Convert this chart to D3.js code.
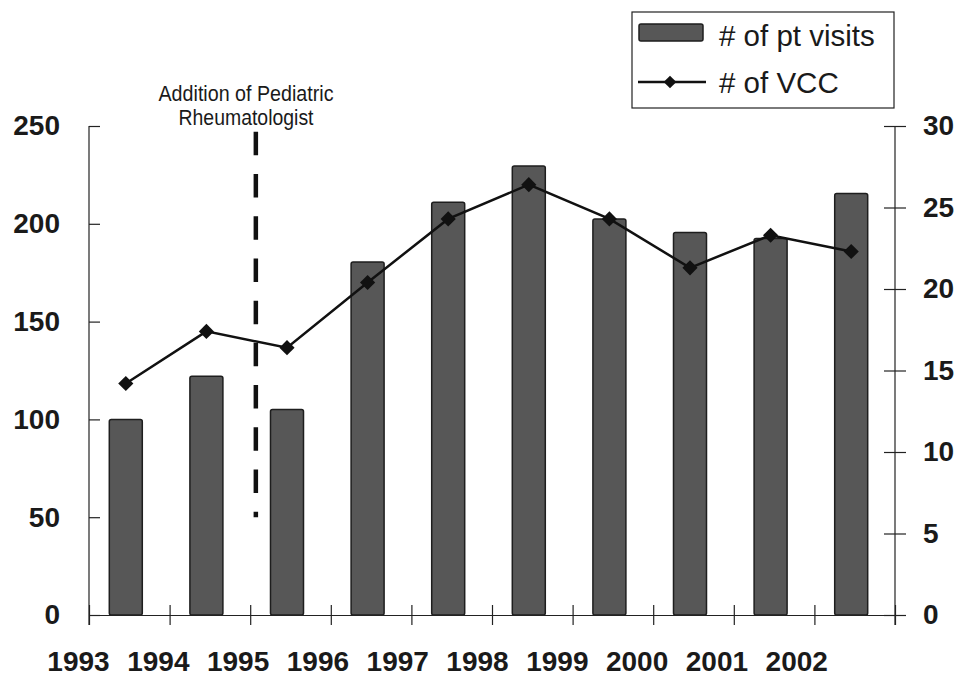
<!DOCTYPE html>
<html>
<head>
<meta charset="utf-8">
<script src="https://cdn.jsdelivr.net/npm/d3@7"></script>
<style>
  body { margin: 0; background: #fff; }
  svg { display: block; }
  .tickText { font-family: "Liberation Sans", Arial, sans-serif; font-weight: bold; font-size: 28px; fill: #1a1a1a; }
  .note { font-family: "Liberation Sans Narrow", "Liberation Sans", Arial, sans-serif; font-size: 22px; fill: #1a1a1a; }
  .legendText { font-family: "Liberation Sans", Arial, sans-serif; font-size: 29.5px; fill: #1a1a1a; }
</style>
</head>
<body>
<script>
// Visits and VCC per year

let years = [1993, 1994, 1995, 1996, 1997, 1998, 1999, 2000, 2001, 2002];
let ptVisits = [100, 122, 105, 180.5, 211, 229.5, 202.5, 195.5, 192.5, 215.5];
let vccCounts = [14.2, 17.4, 16.4, 20.4, 24.3, 26.4, 24.3, 21.3, 23.3, 22.3];
let leftTicks = [0, 50, 100, 150, 200, 250];
let rightTicks = [0, 5, 10, 15, 20, 25, 30];
let seriesNames = ["# of pt visits", "# of VCC"];
let noteLines = ["Addition of Pediatric", "Rheumatologist"];
let noteYear = 1995.07;      // where the dashed marker sits
let noteRange = [50, 247];   // its extent on the left axis

// SVG params
let svgWidth = 955;
let svgHeight = 678;
let plotLeft = 89, plotRight = 895, plotTop = 126, plotBottom = 615;

let svg = d3.select("body")
    .append("svg")
    .attr("width", svgWidth)
    .attr("height", svgHeight);

// Scales
let xEdge = d3.scaleLinear().domain([1993, 2003]).range([plotLeft, plotRight]);
let xBand = d3.scaleBand().domain(years).range([plotLeft, plotRight]);
let barW = 33;
let barX = d => xBand(d) + xBand.bandwidth() / 2 - 3.5;

let yLeft = d3.scaleLinear().domain([0, 250]).range([plotBottom, plotTop]);
let yRight = d3.scaleLinear().domain([0, 30]).range([plotBottom, plotTop]);

let data = years.map((y, i) => ({ year: y, visits: ptVisits[i], vcc: vccCounts[i] }));

// Bars
svg.append("g").selectAll("rect")
    .data(data)
    .enter()
    .append("rect")
    .attr("x", d => barX(d.year) - barW / 2)
    .attr("y", d => yLeft(d.visits))
    .attr("width", barW)
    .attr("height", d => yLeft(0) - yLeft(d.visits))
    .attr("rx", 2)
    .attr("fill", "#575757")
    .attr("stroke", "#1e1e1e")
    .attr("stroke-width", 1.5);

// X axis: boundary ticks
let xTicks = svg.append("g")
    .attr("transform", `translate(0, ${plotBottom})`)
    .call(d3.axisBottom(xEdge).tickValues(d3.range(1993, 2004)).tickSize(10).tickSizeOuter(0).tickFormat(""));
xTicks.selectAll(".tick line").attr("y1", -10).attr("stroke", "#222").attr("stroke-width", 1.2);
xTicks.select(".domain").attr("stroke", "#222").attr("stroke-width", 1.2);

// X axis: year labels
let xLabels = svg.append("g")
    .attr("transform", `translate(0, ${plotBottom})`)
    .call(d3.axisBottom(xEdge).tickValues(years).tickSize(0).tickFormat(d3.format("d")));
xLabels.select(".domain").remove();
xLabels.selectAll("text")
    .attr("class", "tickText")
    .attr("y", 56)
    .attr("dy", 0)
    .attr("dx", (d, i) => -11 - 0.8 * i);

// Left axis
let yAxisL = svg.append("g")
    .attr("transform", `translate(${plotLeft}, 0)`)
    .call(d3.axisLeft(yLeft).tickValues(leftTicks).tickSize(11).tickPadding(18));
yAxisL.select(".domain").remove();
yAxisL.selectAll(".tick line").attr("x2", 11).attr("stroke", "#222").attr("stroke-width", 1.2);
yAxisL.selectAll("text").attr("class", "tickText");
yAxisL.append("line")
    .attr("y1", yLeft(250)).attr("y2", yLeft(0) + 10)
    .attr("stroke", "#222").attr("stroke-width", 1.2);

// Right axis
let yAxisR = svg.append("g")
    .attr("transform", `translate(${plotRight}, 0)`)
    .call(d3.axisRight(yRight).tickValues(rightTicks).tickSize(11).tickPadding(17));
yAxisR.select(".domain").remove();
yAxisR.selectAll(".tick line").attr("x2", 11).attr("x1", -11).attr("stroke", "#222").attr("stroke-width", 1.2);
yAxisR.selectAll("text").attr("class", "tickText");
yAxisR.append("line")
    .attr("y1", yRight(30)).attr("y2", yRight(0) + 10)
    .attr("stroke", "#222").attr("stroke-width", 1.2);

// VCC line + diamonds
let line = d3.line()
    .x(d => barX(d.year))
    .y(d => yRight(d.vcc));

svg.append("path")
    .datum(data)
    .attr("d", line)
    .attr("fill", "none")
    .attr("stroke", "#111")
    .attr("stroke-width", 2.5);

let diamond = d3.symbol().type(d3.symbolSquare).size(115);
svg.append("g").selectAll("path")
    .data(data)
    .enter()
    .append("path")
    .attr("d", diamond)
    .attr("transform", d => `translate(${barX(d.year)}, ${yRight(d.vcc)}) rotate(45)`)
    .attr("fill", "#111");

// Dashed marker + note
svg.append("line")
    .attr("x1", xEdge(noteYear)).attr("x2", xEdge(noteYear))
    .attr("y1", yLeft(noteRange[1])).attr("y2", yLeft(noteRange[0]))
    .attr("stroke", "#111")
    .attr("stroke-width", 4.5)
    .attr("stroke-dasharray", "23.5 18.7");

let noteWidths = [175, 135];
let noteBase = [100.5, 124.5];
svg.append("g").selectAll("text")
    .data(noteLines)
    .enter()
    .append("text")
    .attr("class", "note")
    .attr("x", 246)
    .attr("y", (d, i) => noteBase[i])
    .attr("text-anchor", "middle")
    .attr("textLength", (d, i) => noteWidths[i])
    .attr("lengthAdjust", "spacingAndGlyphs")
    .text(d => d);

// Legend
let legend = svg.append("g");
legend.append("rect")
    .attr("x", 632).attr("y", 12)
    .attr("width", 262).attr("height", 96)
    .attr("fill", "#fff")
    .attr("stroke", "#222")
    .attr("stroke-width", 1.2);
legend.append("rect")
    .attr("x", 639).attr("y", 24)
    .attr("width", 64).attr("height", 17)
    .attr("rx", 2)
    .attr("fill", "#575757")
    .attr("stroke", "#1e1e1e")
    .attr("stroke-width", 1.5);
legend.append("line")
    .attr("x1", 638).attr("x2", 706)
    .attr("y1", 82).attr("y2", 82)
    .attr("stroke", "#111")
    .attr("stroke-width", 2.5);
legend.append("path")
    .attr("d", d3.symbol().type(d3.symbolSquare).size(80))
    .attr("transform", "translate(670, 82) rotate(45)")
    .attr("fill", "#111");
legend.selectAll(".legendText")
    .data(seriesNames)
    .enter()
    .append("text")
    .attr("class", "legendText")
    .attr("x", 719)
    .attr("y", (d, i) => [45.5, 92.5][i])
    .text(d => d);
</script>
</body>
</html>
